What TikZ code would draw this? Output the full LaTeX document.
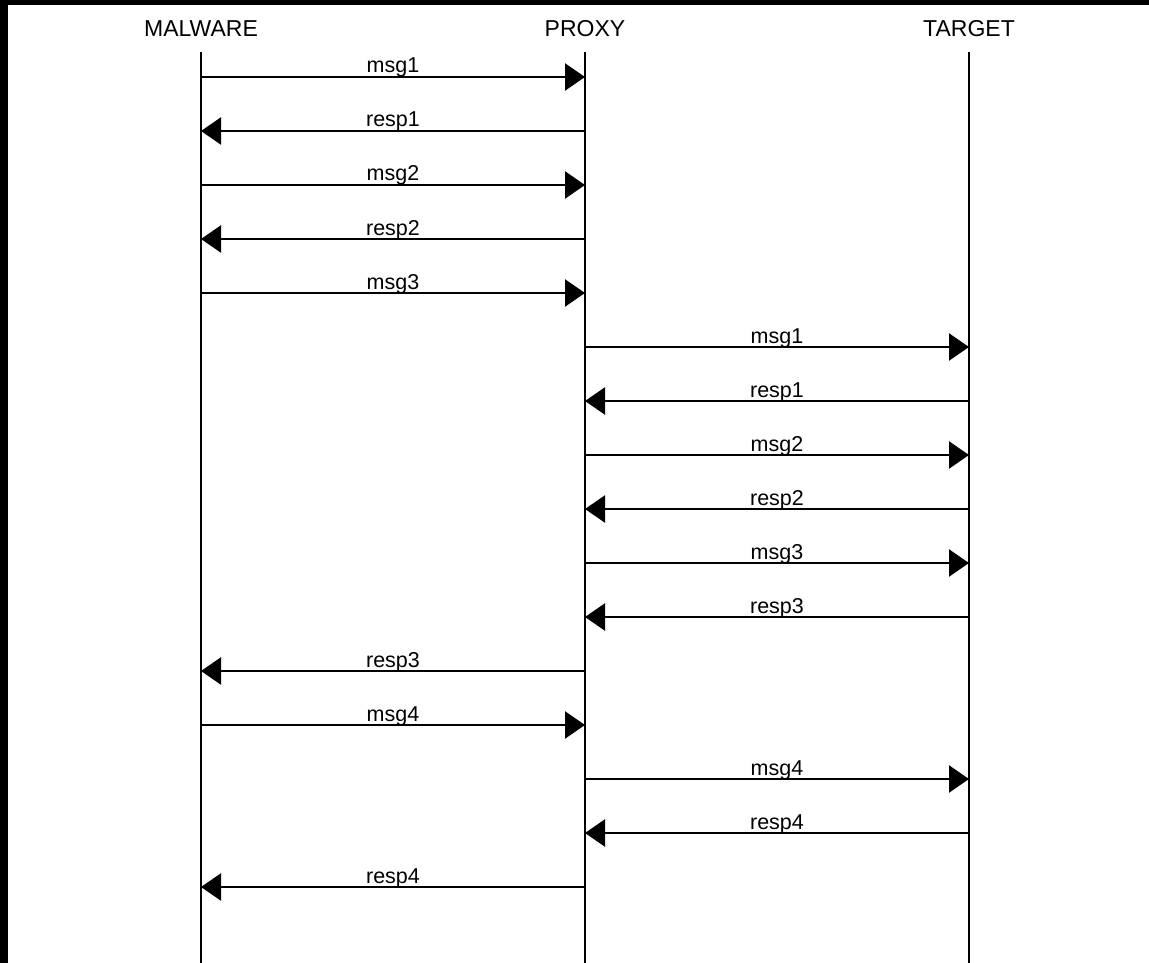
\documentclass[tikz,border=0pt]{standalone}
\usepackage{fontspec}
\setmainfont{Liberation Sans}
\usetikzlibrary{arrows.meta}

\begin{document}
\begin{tikzpicture}[x=1pt,y=-1pt,
  head/.style={anchor=base,inner sep=0,font=\fontsize{23}{26}\selectfont},
  life/.style={line width=2.4pt},
  msg/.style={line width=2.4pt,-{Triangle[length=20pt,width=27pt]}},
  lbl/.style={anchor=base,inner sep=0,yshift=4pt,font=\fontsize{21.5}{24}\selectfont}]
\useasboundingbox (0,0) rectangle (1149,963);
% dark frame on top and left edge
\fill[black] (0,0) rectangle (1149,963);
\fill[white] (8,5) rectangle (1149,963);
% participants and lifelines
\foreach \p/\x/\name in {m/201/MALWARE, p/585/PROXY, t/969/TARGET}{
  \node[head] (\p head) at (\x,37) {\name};
  \coordinate (\p top) at (\x,52);
  \coordinate (\p bot) at (\x,963);
  \draw[life] (\p top) -- (\p bot);
  \foreach \i in {1,...,16}{
    \pgfmathsetmacro\rowy{23+54*\i}
    \coordinate (\p\i) at (\x,\rowy);
  }
}
% messages, one per row
\foreach \i/\from/\to/\txt in {1/m/p/msg1, 2/p/m/resp1, 3/m/p/msg2, 4/p/m/resp2,
    5/m/p/msg3, 6/p/t/msg1, 7/t/p/resp1, 8/p/t/msg2, 9/t/p/resp2, 10/p/t/msg3,
    11/t/p/resp3, 12/p/m/resp3, 13/m/p/msg4, 14/p/t/msg4, 15/t/p/resp4, 16/p/m/resp4}{
  \draw[msg] (\from\i) -- node[lbl]{\txt} (\to\i);
}
\end{tikzpicture}
\end{document}
